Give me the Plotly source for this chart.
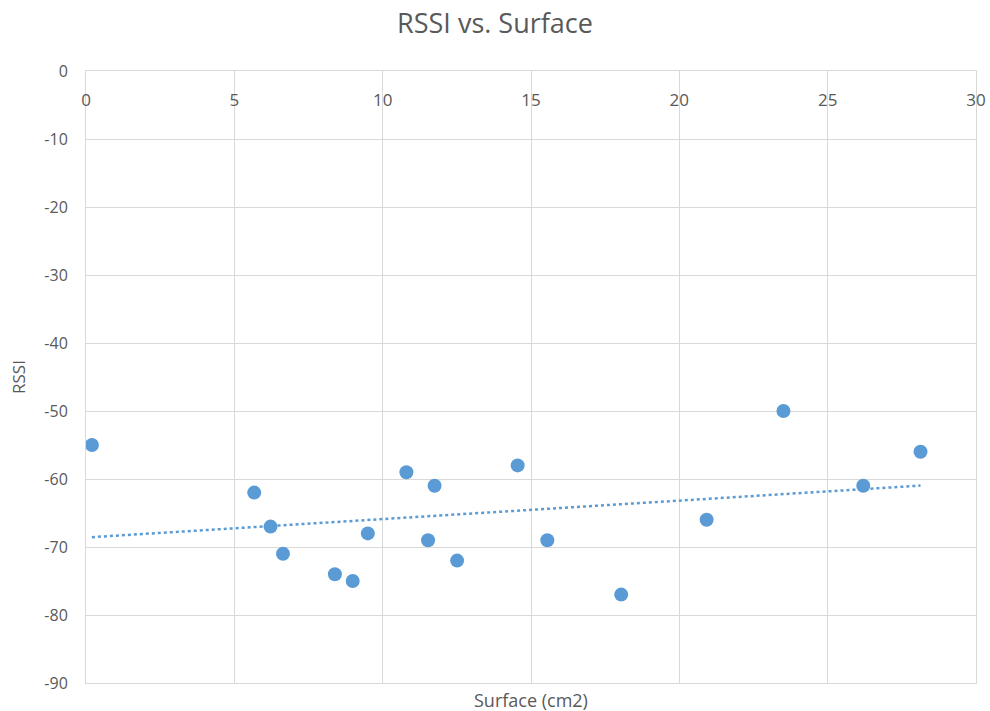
import numpy as np
import plotly.graph_objects as go

surface = [0.2, 5.67, 6.22, 6.64, 8.39, 8.99, 9.5, 10.8, 11.75, 11.53, 12.51, 14.55, 15.55, 18.04, 20.92, 23.51, 26.2, 28.13]
rssi = [-55, -62, -67, -71, -74, -75, -68, -59, -61, -69, -72, -58, -69, -77, -66, -50, -61, -56]

x_ticks = [0, 5, 10, 15, 20, 25, 30]
x_labels = ["0", "5", "10", "15", "20", "25", "30"]
y_ticks = [0, -10, -20, -30, -40, -50, -60, -70, -80, -90]
y_labels = ["0", "-10", "-20", "-30", "-40", "-50", "-60", "-70", "-80", "-90"]

# linear trendline over data range
slope, intercept = np.polyfit(surface, rssi, 1)
tx = np.array([min(surface), max(surface)])
ty = slope * tx + intercept

blue = "#5B9BD5"
grid = "#D9D9D9"
txt = "#595959"
font = "Open Sans"

fig = go.Figure()
fig.add_trace(go.Scatter(x=tx, y=ty, mode="lines",
                         line=dict(color=blue, width=2.5, dash="dot"),
                         hoverinfo="skip", showlegend=False))
fig.add_trace(go.Scatter(x=surface, y=rssi, mode="markers",
                         marker=dict(color=blue, size=14),
                         showlegend=False))
# invisible trace to carry the label axis (x2)
fig.add_trace(go.Scatter(x=surface, y=rssi, mode="markers", xaxis="x2",
                         marker=dict(opacity=0), hoverinfo="skip", showlegend=False))

fig.update_layout(
    width=990, height=711,
    margin=dict(l=86, r=14, t=71, b=28),
    paper_bgcolor="white", plot_bgcolor="white",
    font=dict(family=font, color=txt, size=16),
    title=dict(text="RSSI vs. Surface", x=0.5, xanchor="center", y=0.98, yanchor="top",
               font=dict(size=27, color=txt, family=font)),
    xaxis=dict(range=[0, 30], tickvals=x_ticks, side="top", showticklabels=False,
               ticks="", automargin=False,
               showgrid=True, gridcolor=grid, gridwidth=1,
               showline=True, linecolor=grid, linewidth=1, mirror=True,
               zeroline=False),
    xaxis2=dict(range=[0, 30], tickvals=x_ticks, ticktext=x_labels,
                overlaying="x", anchor="free", position=0.972, side="bottom",
                ticks="", showline=False, showgrid=False, zeroline=False,
                automargin=False, tickfont=dict(size=17, color=txt)),
    yaxis=dict(range=[-90, 0], tickvals=y_ticks, ticktext=y_labels,
               ticks="outside", ticklen=14, tickcolor="rgba(0,0,0,0)",
               showgrid=True, gridcolor=grid, gridwidth=1, automargin=False,
               showline=True, linecolor=grid, linewidth=1, mirror=True,
               zeroline=False, tickfont=dict(size=16, color=txt),
               title=dict(text="RSSI", font=dict(size=17, color=txt), standoff=14)),
    annotations=[dict(text="Surface (cm2)", x=0.5, xref="paper", y=-0.027, yref="paper",
                      xanchor="center", yanchor="middle", showarrow=False,
                      font=dict(size=18, color=txt, family=font))],
)

fig.write_html("out.html", config={"displayModeBar": False},
               post_script="document.body.style.margin='0';")
